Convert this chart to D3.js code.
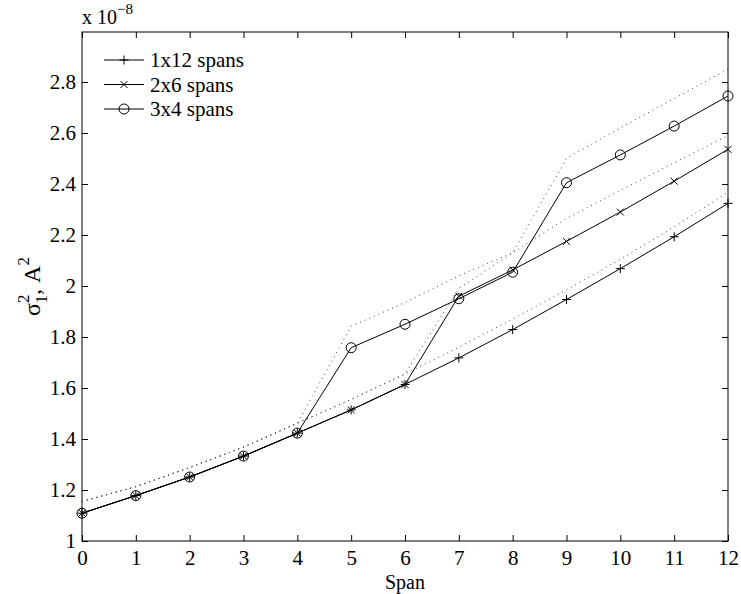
<!DOCTYPE html>
<html lang="en">

<head>
    <script src='https://d3js.org/d3.v7.min.js'></script>
    <style>
        body { margin: 0; background: #fff; }
        text { font-family: "Liberation Serif", "Times New Roman", serif; fill: #000; }
    </style>
</head>

<body>
    <script>
        // Data (units of 1e-8 A^2)
        const spans = [0, 1, 2, 3, 4, 5, 6, 7, 8, 9, 10, 11, 12];
        const s1x12 = [1.109, 1.178, 1.251, 1.333, 1.423, 1.514, 1.614, 1.718, 1.829, 1.947, 2.068, 2.193, 2.324];
        const s2x6 = [1.109, 1.178, 1.251, 1.333, 1.423, 1.514, 1.614, 1.960, 2.063, 2.175, 2.290, 2.411, 2.536];
        const s3x4 = [1.109, 1.178, 1.251, 1.333, 1.423, 1.758, 1.850, 1.950, 2.054, 2.405, 2.514, 2.627, 2.745];
        // dotted upper curves
        const b1x12 = [1.155, 1.213, 1.288, 1.368, 1.462, 1.555, 1.655, 1.760, 1.870, 1.985, 2.105, 2.232, 2.367];
        const b2x6 = [1.155, 1.213, 1.288, 1.368, 1.462, 1.555, 1.655, 1.990, 2.130, 2.265, 2.375, 2.483, 2.590];
        const b3x4 = [1.155, 1.213, 1.288, 1.368, 1.462, 1.842, 1.935, 2.040, 2.130, 2.500, 2.620, 2.735, 2.850];
        const yTicks = [1, 1.2, 1.4, 1.6, 1.8, 2, 2.2, 2.4, 2.6, 2.8];
        const legendLabels = ["1x12 spans", "2x6 spans", "3x4 spans"];

        const width = 741, height = 594;
        const mLeft = 82, mRight = 728, mTop = 32, mBottom = 541;

        const svg = d3.select("body").append("svg")
            .attr("width", width)
            .attr("height", height);

        const x = d3.scaleLinear().domain([0, 12]).range([mLeft, mRight]);
        const y = d3.scaleLinear().domain([1, 2.996]).range([mBottom, mTop]);

        // frame
        svg.append("rect")
            .attr("x", mLeft).attr("y", mTop)
            .attr("width", mRight - mLeft).attr("height", mBottom - mTop)
            .attr("fill", "none").attr("stroke", "#000").attr("stroke-width", 1);

        // axes with inward ticks
        const tickLen = 6;
        svg.append("g")
            .attr("transform", `translate(0,${mBottom})`)
            .call(d3.axisBottom(x).tickValues(spans).tickFormat(d3.format("d")).tickSizeInner(-tickLen).tickSizeOuter(0).tickPadding(9))
            .call(g => g.select(".domain").remove())
            .call(g => g.selectAll("text").attr("font-size", 21).attr("font-family", "Liberation Serif"));
        svg.append("g")
            .attr("transform", `translate(0,${mTop})`)
            .call(d3.axisTop(x).tickValues(spans).tickSizeInner(-tickLen).tickSizeOuter(0).tickFormat(""))
            .call(g => g.select(".domain").remove());
        svg.append("g")
            .attr("transform", `translate(${mLeft},0)`)
            .call(d3.axisLeft(y).tickValues(yTicks).tickFormat(d => String(+d.toFixed(1))).tickSizeInner(-tickLen).tickSizeOuter(0).tickPadding(6))
            .call(g => g.select(".domain").remove())
            .call(g => g.selectAll("text").attr("font-size", 21).attr("font-family", "Liberation Serif"));
        svg.append("g")
            .attr("transform", `translate(${mRight},0)`)
            .call(d3.axisRight(y).tickValues(yTicks).tickSizeInner(-tickLen).tickSizeOuter(0).tickFormat(""))
            .call(g => g.select(".domain").remove());

        // exponent label
        const ex = svg.append("text").attr("x", mLeft).attr("y", 24).attr("font-size", 20);
        ex.append("tspan").text("x 10");
        ex.append("tspan").attr("dy", -10).attr("font-size", 15).text("\u22128");

        // x label
        svg.append("text")
            .attr("x", (mLeft + mRight) / 2).attr("y", 589)
            .attr("text-anchor", "middle").attr("font-size", 20)
            .text("Span");

        // y label
        const yl = svg.append("text")
            .attr("transform", `translate(40,${(mTop + mBottom) / 2}) rotate(-90)`)
            .attr("text-anchor", "middle").attr("font-size", 24);
        yl.append("tspan").text("\u03c3");
        yl.append("tspan").attr("dy", -11).attr("font-size", 17).text("2");
        yl.append("tspan").attr("dx", -9).attr("dy", 18).attr("font-size", 17).text("1");
        yl.append("tspan").attr("dy", -7).text(", A");
        yl.append("tspan").attr("dy", -11).attr("font-size", 17).text("2");

        const line = d3.line().x((d, i) => x(spans[i])).y(d => y(d));

        // dotted curves
        [b1x12, b2x6, b3x4].forEach(b => {
            svg.append("path")
                .datum(b)
                .attr("fill", "none")
                .attr("stroke", "#444")
                .attr("stroke-width", 1)
                .attr("stroke-dasharray", "1,4")
                .attr("d", line);
        });

        // markers
        function drawMarker(g, type, cx, cy) {
            const s = 4.5;
            if (type === "plus") {
                g.append("path").attr("d", `M${cx - s},${cy}H${cx + s}M${cx},${cy - s}V${cy + s}`)
                    .attr("stroke", "#000").attr("stroke-width", 1).attr("fill", "none");
            } else if (type === "cross") {
                const t = 3.5;
                g.append("path").attr("d", `M${cx - t},${cy - t}L${cx + t},${cy + t}M${cx - t},${cy + t}L${cx + t},${cy - t}`)
                    .attr("stroke", "#000").attr("stroke-width", 1).attr("fill", "none");
            } else {
                g.append("circle").attr("cx", cx).attr("cy", cy).attr("r", 5)
                    .attr("stroke", "#000").attr("stroke-width", 1).attr("fill", "none");
            }
        }

        const series = [
            { vals: s1x12, marker: "plus" },
            { vals: s2x6, marker: "cross" },
            { vals: s3x4, marker: "circle" }
        ];

        series.forEach(s => {
            svg.append("path")
                .datum(s.vals)
                .attr("fill", "none")
                .attr("stroke", "#000")
                .attr("stroke-width", 1)
                .attr("d", line);
            const g = svg.append("g");
            s.vals.forEach((v, i) => drawMarker(g, s.marker, x(spans[i]), y(v)));
        });

        // legend
        const lg = svg.append("g");
        series.forEach((s, i) => {
            const ly = 60 + i * 24.5;
            lg.append("line").attr("x1", 104).attr("x2", 144).attr("y1", ly).attr("y2", ly)
                .attr("stroke", "#000").attr("stroke-width", 1);
            drawMarker(lg, s.marker, 124, ly);
            lg.append("text").attr("x", 150).attr("y", ly + 7).attr("font-size", 21).text(legendLabels[i]);
        });
    </script>

</body>

</html>
